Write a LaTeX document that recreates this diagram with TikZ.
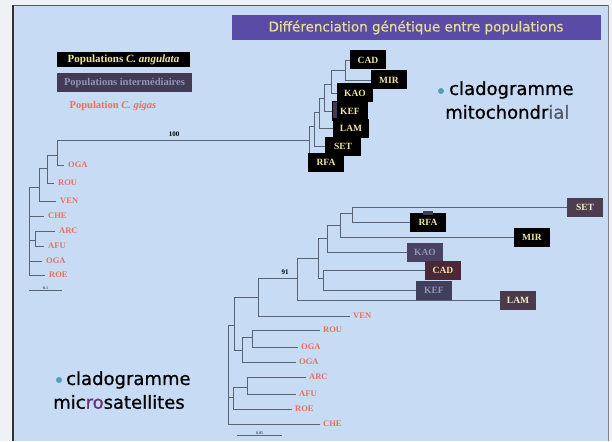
\documentclass[tikz,border=0pt]{standalone}
\usepackage{fontspec}
\setmainfont{Liberation Serif}
\newfontfamily\comic[FakeBold=0.8]{DejaVu Sans}
\usetikzlibrary{backgrounds}
\definecolor{panel}{HTML}{C8DBF4}
\definecolor{outer}{HTML}{EEF2F7}
\definecolor{titlebg}{HTML}{5A4BA6}
\definecolor{titlefg}{HTML}{E4DC90}
\definecolor{gigas}{HTML}{E8705C}
\definecolor{angfg}{HTML}{F0E4A0}
\definecolor{interbg}{HTML}{433A55}
\definecolor{interfg}{HTML}{9094B8}
\definecolor{branch}{HTML}{5C6272}
\definecolor{bulletc}{HTML}{5A9CB4}
\definecolor{setc}{HTML}{4C3E4E}
\definecolor{kaoc}{HTML}{4A4262}
\definecolor{cadc}{HTML}{4A2838}
\definecolor{kefc}{HTML}{40405C}
\definecolor{lamc}{HTML}{4A3A4C}
\tikzset{
  br/.style={draw=branch, line width=0.8pt},
  popbox/.style={fill=black, text=angfg, font=\bfseries\fontsize{9.5}{10}\selectfont,
    minimum width=36pt, minimum height=19pt, inner sep=0pt},
  gig/.style={text=gigas, font=\bfseries\fontsize{8.5}{9}\selectfont, inner ysep=0pt, inner xsep=4pt, anchor=west},
  bigtxt/.style={font=\comic\fontsize{18}{20}\selectfont, anchor=west, inner sep=0pt},
  dot/.style={circle, fill=bulletc, minimum size=6pt, inner sep=0pt},
  tiny/.style={font=\fontsize{4}{4}\selectfont, inner sep=0.5pt}
}
\begin{document}
\begin{tikzpicture}[x=1pt,y=-1pt]
\useasboundingbox (0,0) rectangle (612,441);
\begin{scope}[on background layer]
\fill[outer] (0,0) rectangle (612,441);
\fill[panel] (13,5) rectangle (608,441);
\draw[gray!70!black, line width=0.8pt] (13,5) -- (608,5);
\draw[black!80, line width=1.6pt] (13,5) -- (13,441);
\draw[gray, line width=0.8pt] (608,5) -- (608,441);
\end{scope}

% title
\node[fill=titlebg, minimum width=369pt, minimum height=25pt, inner sep=0pt, text=titlefg,
  font=\comic\fontsize{13.5}{14}\selectfont] (title) at (416,27.5) {Différenciation génétique entre populations};

% legend
\node[fill=black, minimum width=133pt, minimum height=15pt, inner sep=0pt, text=angfg,
  font=\bfseries\fontsize{11}{12}\selectfont] (leg1) at (123.5,60) {Populations \textit{C. angulata}};
\node[fill=interbg, minimum width=135pt, minimum height=19pt, inner sep=0pt, text=interfg,
  font=\bfseries\fontsize{10.5}{11}\selectfont] (leg2) at (124.5,82.5) {Populations intermédiaires};
\node[text=gigas, inner sep=0pt, font=\bfseries\fontsize{10.5}{11}\selectfont] (leg3) at (113,106) {Population \textit{C. gigas}};

% captions
\node[dot] (bulM) at (441,91) {};
\node[bigtxt] (cladM) at (449,90) {cladogramme};
\node[bigtxt] (mitoM) at (445,112) {mitochondr\textcolor{interfg!60!black}{ial}};
\node[dot] (bulU) at (59,380) {};
\node[bigtxt] (cladU) at (66,380) {cladogramme};
\node[bigtxt] (microU) at (53,402) {mic\textcolor{interbg!80!magenta}{ro}satellites};

% ---------- mitochondrial tree ----------
\coordinate (mR) at (29,232);
\coordinate (mA) at (39,187);
\coordinate (mB) at (47,168);
\coordinate (mC) at (57,155);
\coordinate (mM) at (35,240);
\coordinate (mI) at (309,140);
\coordinate (m2) at (314,126);
\coordinate (m3) at (319,112);
\coordinate (m4) at (324,98);
\coordinate (m5) at (331,84);
\coordinate (m6) at (345,70);

\node[gig] (mOGA) at (64,165) {OGA};
\node[gig] (mROU) at (54,183) {ROU};
\node[gig] (mVEN) at (56,201) {VEN};
\node[gig] (mCHE) at (44,216) {CHE};
\node[gig] (mARC) at (55,231) {ARC};
\node[gig] (mAFU) at (44,246) {AFU};
\node[gig] (mOGB) at (42,261) {OGA};
\node[gig] (mROE) at (45,275) {ROE};

\node[popbox] (mRFA) at (326,162) {RFA};
\node[popbox] (mSET) at (343,146) {SET};
\node[popbox] (mLAM) at (351,128) {LAM};
\node[popbox] (mKEF) at (350,111) {KEF};
\node[fill=interbg, minimum width=4pt, minimum height=16pt, inner sep=0pt] (mKEFmark) at (334.5,110) {};
\node[popbox] (mKAO) at (355,93) {KAO};
\node[popbox] (mMIR) at (389,80) {MIR};
\node[popbox] (mCAD) at (368,60) {CAD};

\node[font=\bfseries\fontsize{7}{8}\selectfont, inner sep=0pt] (m100) at (174,134) {100};

\coordinate (msb1) at (29,290);
\coordinate (msb2) at (62,290);

\begin{scope}[on background layer]
\draw[br] (mR) |- (mA);
\draw[br] (mA) |- (mB);
\draw[br] (mA) |- (mVEN.west);
\draw[br] (mB) |- (mC);
\draw[br] (mB) |- (mROU.west);
\draw[br] (mC) |- (mI);
\draw[br] (mC) |- (mOGA.west);
\draw[br] (mR) |- (mCHE.west);
\draw[br] (mR) |- (mM);
\draw[br] (mM) |- (mARC.west);
\draw[br] (mM) |- (mAFU.west);
\draw[br] (mR) |- (mOGB.west);
\draw[br] (mR) |- (mROE.west);
\draw[br] (mI) |- (mRFA.west);
\draw[br] (mI) |- (m2);
\draw[br] (m2) |- (mSET.west);
\draw[br] (m2) |- (m3);
\draw[br] (m3) |- (mLAM.west);
\draw[br] (m3) |- (m4);
\draw[br] (m4) |- (mKEF.west);
\draw[br] (m4) |- (m5);
\draw[br] (m5) |- (mKAO.west);
\draw[br] (m5) |- (m6);
\draw[br] (m6) |- (mCAD.west);
\draw[br] (m6) |- (mMIR.west);
\draw[br] (msb1) -- (msb2) node[midway, above, tiny] (msbl) {0.1};
\end{scope}

% ---------- microsatellite tree ----------
\coordinate (uR) at (228,380);
\coordinate (uB) at (234,325);
\coordinate (uC) at (258,297);
\coordinate (uN) at (297,278);
\coordinate (uE) at (318,258);
\coordinate (uF) at (327,238);
\coordinate (uG) at (340,225);
\coordinate (uH) at (352,213);
\coordinate (uI) at (323,278);
\coordinate (uD) at (242,350);
\coordinate (uJ) at (252,337);
\coordinate (uK) at (233,397);
\coordinate (uL) at (247,387);

\node[popbox, fill=setc, text=angfg!70!white] (uSET) at (585,207) {SET};
\node[popbox] (uRFA) at (428,222) {RFA};
\node[fill=interbg, minimum width=10pt, minimum height=4pt, inner sep=0pt] (uRFAmark) at (428,213) {};
\node[popbox] (uMIR) at (532,237) {MIR};
\node[popbox, fill=kaoc, text=interfg] (uKAO) at (425,252) {KAO};
\node[popbox, fill=cadc] (uCAD) at (443,270) {CAD};
\node[popbox, fill=kefc, text=interfg] (uKEF) at (434,290) {KEF};
\node[popbox, fill=lamc, text=angfg!60!white] (uLAM) at (518,300) {LAM};

\node[gig, inner xsep=3pt] (uVEN) at (350,316) {VEN};
\node[gig, inner xsep=3pt] (uROU) at (320,330) {ROU};
\node[gig, inner xsep=3pt] (uOGA) at (298,347) {OGA};
\node[gig, inner xsep=3pt] (uOGB) at (296,362) {OGA};
\node[gig, inner xsep=3pt] (uARC) at (306,377) {ARC};
\node[gig, inner xsep=3pt] (uAFU) at (296,394) {AFU};
\node[gig, inner xsep=3pt] (uROE) at (292,409) {ROE};
\node[gig, inner xsep=3pt] (uCHE) at (320,424) {CHE};

\node[font=\bfseries\fontsize{7}{8}\selectfont, inner sep=0pt] (u91) at (285,272) {91};

\coordinate (usb1) at (237,435);
\coordinate (usb2) at (282,435);

\begin{scope}[on background layer]
\draw[br] (uR) |- (uB);
\draw[br] (uR) |- (uK);
\draw[br] (uR) |- (uCHE.west);
\draw[br] (uB) |- (uC);
\draw[br] (uB) |- (uD);
\draw[br] (uC) |- (uN);
\draw[br] (uC) |- (uVEN.west);
\draw[br] (uN) |- (uE);
\draw[br] (uN) |- (uLAM.west);
\draw[br] (uE) |- (uF);
\draw[br] (uE) |- (uI);
\draw[br] (uF) |- (uG);
\draw[br] (uF) |- (uKAO.west);
\draw[br] (uG) |- (uH);
\draw[br] (uG) |- (uMIR.west);
\draw[br] (uH) |- (uSET.west);
\draw[br] (uH) |- (uRFA.west);
\draw[br] (uI) |- (uCAD.west);
\draw[br] (uI) |- (uKEF.west);
\draw[br] (uD) |- (uJ);
\draw[br] (uD) |- (uOGB.west);
\draw[br] (uJ) |- (uROU.west);
\draw[br] (uJ) |- (uOGA.west);
\draw[br] (uK) |- (uL);
\draw[br] (uK) |- (uROE.west);
\draw[br] (uL) |- (uARC.west);
\draw[br] (uL) |- (uAFU.west);
\draw[br] (usb1) -- (usb2) node[midway, above, tiny] (usbl) {0.05};
\end{scope}
\end{tikzpicture}
\end{document}
